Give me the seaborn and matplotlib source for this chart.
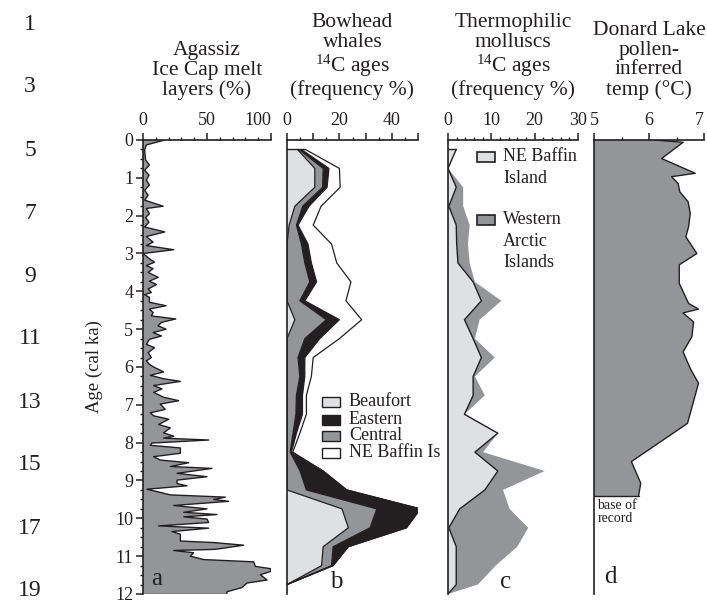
import numpy as np
import matplotlib
matplotlib.use("Agg")
import matplotlib.pyplot as plt
import seaborn as sns
from matplotlib.patches import Rectangle
from matplotlib.ticker import MultipleLocator, FixedLocator, FuncFormatter

sns.set_style("ticks")
plt.rcParams['font.family'] = ['Liberation Serif', 'DejaVu Serif']
plt.rcParams['mathtext.default'] = 'regular'

# ---------------- data ----------------
# (a) Agassiz Ice Cap melt layers (%)
ice_age = [0.0, 0.13, 0.27, 0.53, 0.66, 0.80, 0.93, 1.06, 1.19, 1.33, 1.46, 1.59, 1.75, 1.81,
           1.95, 2.05, 2.17, 2.30, 2.43, 2.55, 2.70, 2.79, 2.90, 3.00, 3.14, 3.23, 3.32, 3.40,
           3.50, 3.63, 3.73, 3.82, 3.94, 4.03, 4.09, 4.16, 4.29, 4.38, 4.47, 4.56, 4.65, 4.73,
           4.82, 4.91, 5.00, 5.09, 5.18, 5.27, 5.40, 5.49, 5.62, 5.75, 5.84, 5.93,
           6.00, 6.13, 6.22, 6.31, 6.38, 6.49, 6.58, 6.67, 6.80, 6.89, 6.98, 7.12, 7.21, 7.29,
           7.38, 7.52, 7.61, 7.74, 7.83, 7.88, 7.93, 8.01, 8.07, 8.14, 8.28, 8.37, 8.46, 8.53,
           8.63, 8.68, 8.81, 8.90, 8.99, 9.08, 9.14, 9.23, 9.38, 9.44, 9.50, 9.55, 9.66, 9.75,
           9.84, 9.90, 9.96, 10.02, 10.11, 10.20, 10.26, 10.35, 10.42, 10.60, 10.64, 10.71,
           10.82, 10.85, 10.91, 11.00, 11.09, 11.15, 11.27, 11.33, 11.40, 11.49, 11.63, 11.71,
           11.83, 11.94, 12.00]
ice_melt = [17, 2.6, 1.3, 2, 5, 1.3, 4.7, 2.6, 5, 1.3, 4, 1.3, 15.7, 2.6,
            5, 2, 4.7, 1.3, 17, 2.6, 7.9, 2.6, 24, 0, 5, 9, 2.6, 7.9,
            4, 11.8, 5, 10.5, 4, 6.5, 1.3, 5, 5, 18, 5, 7.9, 6.5, 25.6,
            14.4, 11.8, 18, 7.9, 14.4, 5, 2.6, 9, 4, 6.5, 2.6, 5,
            8.3, 16.1, 5.7, 16.1, 29.2, 8.3, 14.8, 8.3, 16.1, 27.9, 13.5, 17.4, 5.7, 8.3,
            20.1, 12.2, 21.4, 16.1, 24, 16.1, 51.3, 7, 5.7, 29.2, 29.2, 8.3, 13.5, 35.7,
            21.4, 53.9, 26.6, 50, 26.6, 26.6, 34.4, 3.1, 21.4, 64.3, 55.2, 66.9, 24, 50,
            31.8, 57.8, 31.8, 50, 51.3, 12.2, 51.3, 22.7, 29.2, 29.2, 55.2, 78.6,
            56.5, 24, 39.6, 37, 47.4, 86.5, 87.8, 99.5, 100, 91.7, 96.9, 81.3,
            77.3, 65.6, 65.6]

# (b) Bowhead whale 14C ages (frequency %)
whale_age = [0.25, 0.75, 1.25, 1.75, 2.25, 2.75, 3.25, 3.75, 4.25, 4.75, 5.25, 5.75,
             6.25, 6.75, 7.25, 7.75, 8.25, 8.75, 9.25, 9.75, 10.25, 10.75, 11.25, 11.75]
whale_beaufort = [4, 10.6, 10.6, 3, 0.8, 0, 0, 0, 0, 3, 0, 0,
                  0, 0, 0, 0, 0, 0, 0, 21, 23.4, 13.8, 13.2, 0]
whale_central = [0.5, 3.2, 3.0, 3.0, 2.8, 5.5, 6.8, 8.7, 4.9, 12, 6.8, 4.2,
                 4.9, 3.6, 3.4, 2.3, 1.2, 5, 7.4, 13.3, 8.3, 3.8, 3.8, 0]
whale_eastern = [1, 2.2, 1.7, 2.4, 0.6, 2.5, 2.5, 2.6, 1.9, 5, 5.7, 2.6,
                 1.9, 2.3, 2.5, 1.3, 0.5, 8.8, 15.4, 16.6, 13.9, 5.8, 0.6, 0]
whale_nebaffin = [1.5, 4, 5, 4.6, 5.8, 9, 9.7, 13.1, 15.7, 8.5, 7.5, 3.2,
                  2.5, 1.5, 1.5, 1.3, 0.5, 0, 0, 0, 0, 0, 0, 0]

# (c) Thermophilic molluscs 14C ages (frequency %)
moll_age = [0.25, 0.75, 1.25, 1.75, 2.25, 2.75, 3.25, 3.75, 4.25, 4.75, 5.25, 5.75,
            6.25, 6.75, 7.25, 7.75, 8.25, 8.75, 9.25, 9.75, 10.25, 10.75, 11.25, 11.75, 12.0]
moll_nebaffin = [1.9, 0, 1.9, 0.2, 1.9, 2.0, 2.3, 5.8, 7.7, 3.8, 5.8, 7.7,
                 5.8, 5.8, 3.8, 11.5, 6.2, 11.5, 8.5, 2.7, 0.2, 1.9, 1.9, 1.9, 0]
moll_western = [0, 0, 1.6, 3.3, 3.1, 2.6, 2.7, 0.4, 4.6, 3.5, 0.4, 3.1,
                0.4, 2.7, 0, 0, 1.9, 10.8, 4.2, 11.5, 18.3, 14.1, 9.1, 5.0, 0]

# (d) Donard Lake pollen-inferred temperature (°C)
pollen_age = [0.0, 0.06, 0.49, 0.88, 0.97, 1.15, 1.37, 1.63, 1.94, 2.29, 2.56, 3.00,
              3.30, 3.79, 4.32, 4.47, 4.57, 4.81, 5.20, 5.60, 6.04, 6.43, 7.49, 8.50,
              9.07, 9.41]
pollen_temp = [6.1, 6.62, 6.23, 6.84, 6.41, 6.53, 6.56, 6.71, 6.75, 6.72, 6.67, 6.87,
               6.55, 6.55, 6.72, 6.90, 6.62, 6.81, 6.78, 6.62, 6.75, 6.90, 6.70, 5.68,
               5.85, 5.81]

line_numbers = [1, 3, 5, 7, 9, 11, 13, 15, 17, 19]

# ---------------- style ----------------
LIGHT = '#dfe0e2'
MID = '#939598'
DARK = '#231f20'

W, H = 707, 603
fig = plt.figure(figsize=(W / 100, H / 100), dpi=100)
fig.patch.set_facecolor('white')


def axpos(x0, x1, y0=140, y1=594):
    return [x0 / W, 1 - y1 / H, (x1 - x0) / W, (y1 - y0) / H]


axa = fig.add_axes(axpos(143, 271))
axb = fig.add_axes(axpos(287, 418))
axc = fig.add_axes(axpos(448, 578))
axd = fig.add_axes(axpos(594, 704))

TICKFS = 13
for ax in (axa, axb, axc, axd):
    ax.set_facecolor('white')
    ax.set_ylim(12, 0)
    ax.xaxis.tick_top()
    for s in ('right', 'bottom'):
        ax.spines[s].set_visible(False)
    for s in ('left', 'top'):
        ax.spines[s].set_linewidth(1.2)
        ax.spines[s].set_color(DARK)
    ax.tick_params(axis='x', which='major', direction='out', length=5, width=1.1,
                   pad=3, labelsize=TICKFS, colors=DARK)
    ax.tick_params(axis='x', which='minor', direction='out', length=2.5, width=1.0,
                   colors=DARK)
    ax.grid(False)

for ax in (axb, axc, axd):
    ax.tick_params(axis='y', which='both', left=False, labelleft=False)

# ---- panel a ----
axa.fill_betweenx(ice_age, 0, ice_melt, facecolor=MID, edgecolor='none', zorder=1)
sns.lineplot(x=ice_melt, y=ice_age, ax=axa, orient='y', sort=False, estimator=None,
             color=DARK, linewidth=1.0, zorder=2)
axa.plot([0, ice_melt[-1]], [ice_age[-1], ice_age[-1]], color=DARK, lw=1.0, zorder=2)
axa.set_xlim(0, 100)
axa.xaxis.set_major_locator(FixedLocator([0, 50, 100]))
axa.xaxis.set_minor_locator(MultipleLocator(10))
axa.yaxis.set_major_locator(MultipleLocator(1))
axa.yaxis.set_minor_locator(MultipleLocator(0.25))
axa.tick_params(axis='y', which='major', direction='out', length=5, width=1.1,
                labelsize=TICKFS, pad=2, colors=DARK)
axa.tick_params(axis='y', which='minor', direction='out', length=2.5, width=1.0,
                colors=DARK)
axa.set_ylabel('Age (cal ka)', fontsize=13.5, labelpad=9, color=DARK)
axa.set_xlabel('')

# ---- panel b ----
wb = np.array(whale_beaufort)
wc = wb + np.array(whale_central)
we = wc + np.array(whale_eastern)
wn = we + np.array(whale_nebaffin)
layers = [(np.zeros_like(wb), wb, LIGHT), (wb, wc, MID), (wc, we, DARK), (we, wn, 'white')]
for lo, hi, col in layers[::-1]:
    axb.fill_betweenx(whale_age, lo, hi, facecolor=col, edgecolor='none', zorder=1)
for hi in (wb, wc, we, wn):
    sns.lineplot(x=hi, y=whale_age, ax=axb, orient='y', sort=False, estimator=None,
                 color=DARK, linewidth=0.9, zorder=2)
axb.plot([0, wn[0]], [whale_age[0], whale_age[0]], color=DARK, lw=1.0, zorder=2)
axb.set_xlim(0, 50)
axb.xaxis.set_major_locator(MultipleLocator(10))
axb.xaxis.set_minor_locator(MultipleLocator(5))
axb.xaxis.set_major_formatter(FuncFormatter(lambda v, p: f"{v:g}" if round(v) % 20 == 0 else ""))
axb.set_xlabel('')
axb.set_ylabel('')

# ---- panel c ----
mb = np.array(moll_nebaffin)
mt = mb + np.array(moll_western)
axc.fill_betweenx(moll_age, mb, mt, facecolor=MID, edgecolor='none', zorder=1)
axc.fill_betweenx(moll_age, 0, mb, facecolor=LIGHT, edgecolor='none', zorder=1)
sns.lineplot(x=mb, y=moll_age, ax=axc, orient='y', sort=False, estimator=None,
             color=DARK, linewidth=1.0, zorder=2)
axc.plot([0, mb[0]], [moll_age[0], moll_age[0]], color=DARK, lw=1.0, zorder=2)
axc.set_xlim(0, 30)
axc.xaxis.set_major_locator(MultipleLocator(10))
axc.xaxis.set_minor_locator(MultipleLocator(2))
axc.set_xlabel('')
axc.set_ylabel('')

# ---- panel d ----
axd.fill_betweenx(pollen_age, 5, pollen_temp, facecolor=MID, edgecolor='none', zorder=1)
sns.lineplot(x=pollen_temp, y=pollen_age, ax=axd, orient='y', sort=False, estimator=None,
             color=DARK, linewidth=1.0, zorder=2)
axd.plot([5, pollen_temp[-1]], [pollen_age[-1], pollen_age[-1]], color=DARK, lw=1.0, zorder=2)
axd.set_xlim(5, 7)
axd.xaxis.set_major_locator(MultipleLocator(1))
axd.xaxis.set_minor_locator(MultipleLocator(0.5))
axd.set_xlabel('')
axd.set_ylabel('')
axd.text(0.03, 0.21, 'base of\nrecord', transform=axd.transAxes, fontsize=10,
         va='top', ha='left', linespacing=1.0, color=DARK)

# ---- titles ----
TITLEFS = 15.5
titles = [(axa, 'Agassiz\nIce Cap melt\nlayers (%)'),
          (axb, 'Bowhead\nwhales\n$^{14}$C ages\n(frequency %)'),
          (axc, 'Thermophilic\nmolluscs\n$^{14}$C ages\n(frequency %)'),
          (axd, 'Donard Lake\npollen-\ninferred\ntemp (°C)')]
for ax, t in titles:
    ax.text(0.5, (594 - 100) / 454, t, transform=ax.transAxes, ha='center', va='bottom',
            fontsize=TITLEFS, linespacing=1.05, color=DARK)

# ---- panel letters ----
for ax, letter, xx, yy in [(axa, 'a', 0.11, 0.032), (axb, 'b', 0.38, 0.026),
                           (axc, 'c', 0.44, 0.026), (axd, 'd', 0.145, 0.037)]:
    ax.text(xx, yy, letter, transform=ax.transAxes, ha='center', va='center',
            fontsize=18, color=DARK)

# ---- legends ----
LEGFS = 13
for lab, col, ypx in [('Beaufort', LIGHT, 402), ('Eastern', DARK, 420),
                      ('Central', MID, 436), ('NE Baffin Is', 'white', 453)]:
    yax = (594 - ypx) / 454
    axb.add_patch(Rectangle((0.267, yax - 0.012), 0.137, 0.024, transform=axb.transAxes,
                            facecolor=col, edgecolor=DARK, lw=1.0, zorder=5))
    axb.text(0.473, yax, lab, transform=axb.transAxes, ha='left', va='center',
             fontsize=LEGFS, color=DARK, zorder=5)

for lines, col, ypx in [(['NE Baffin', 'Island'], LIGHT, 157),
                        (['Western', 'Arctic', 'Islands'], MID, 220)]:
    yax = (594 - ypx) / 454
    axc.add_patch(Rectangle((0.223, yax - 0.012), 0.138, 0.024, transform=axc.transAxes,
                            facecolor=col, edgecolor=DARK, lw=1.2, zorder=5))
    for i, ln in enumerate(lines):
        axc.text(0.423, (594 - ypx - 21.5 * i) / 454, ln, transform=axc.transAxes,
                 ha='left', va='center', fontsize=LEGFS, color=DARK, zorder=5)

# ---- page line numbers ----
for i, n in enumerate(line_numbers):
    fig.text(30 / W, 1 - (24 + 63 * i) / H, str(n), ha='center', va='center',
             fontsize=17, color=DARK)

# right-align the last tick labels of panels a and d (as in the reference)
fig.canvas.draw()
for ax, last in ((axa, '100'), (axd, '7')):
    for lab in ax.get_xticklabels():
        if lab.get_text() == last:
            lab.set_horizontalalignment('right')

fig.savefig('out.png', dpi=100, facecolor='white')
